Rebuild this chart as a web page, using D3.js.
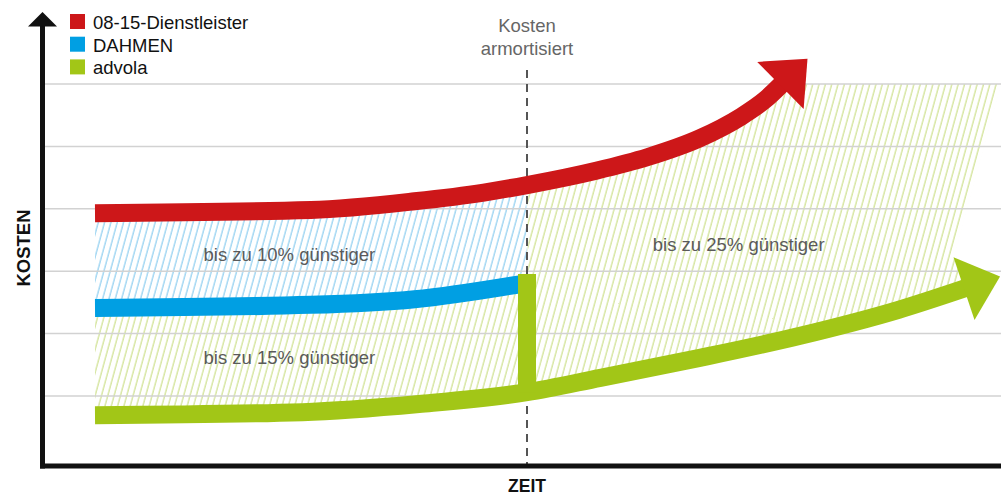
<!DOCTYPE html>
<html>
<head>
<meta charset="utf-8">
<script src="https://cdn.jsdelivr.net/npm/d3@7"></script>
<style>
body { margin: 0; background: #fff; }
svg { display: block; font-family: "Liberation Sans", Arial, sans-serif; }
</style>
</head>
<body>
<script>
// Daten
var serien = ["08-15-Dienstleister", "DAHMEN", "advola"];
var farben = ["#cd1719", "#009fe3", "#a2c617"];
var zeit0815 = [0, 2.5, 3.7, 4.5, 5, 5.8, 6.4, 7, 7.47, 7.75, 7.95];
var kosten0815 = [3.93, 3.98, 4.12, 4.26, 4.38, 4.61, 4.83, 5.13, 5.47, 5.74, 6.0];
var zeitDahmen = [0, 2.5, 3.7, 5];
var kostenDahmen = [2.41, 2.46, 2.55, 2.81];
var zeitAdvola = [0, 2.4, 3.75, 5, 5.85, 7, 8.15, 9.3, 10.08];
var kostenAdvola = [0.69, 0.74, 0.87, 1.06, 1.29, 1.61, 1.96, 2.38, 2.73];
var amortZeit = 5;
var gitterWerte = [1, 2, 3, 4, 5, 6];
var texte = ["bis zu 10% günstiger", "bis zu 15% günstiger", "bis zu 25% günstiger"];

var width = 1001, height = 496;
var achseX = 42.5, achseY = 466;
var band = 18;
var hatchWinkel = 15.3;

var svg = d3.select("body").append("svg").attr("width", width).attr("height", height);
var x = d3.scaleLinear().domain([0, 10]).range([95, 959]);
var y = d3.scaleLinear().domain([0, 6]).range([458.3, 84]);

function zip(a, b) {
    return a.map(function (d, i) { return [d, b[i]]; });
}
var daten = [zip(zeit0815, kosten0815), zip(zeitDahmen, kostenDahmen), zip(zeitAdvola, kostenAdvola)];

//Schraffur
var defs = svg.append("defs");
function hatch(id, color) {
    defs.append("pattern").attr("id", id).attr("patternUnits", "userSpaceOnUse")
        .attr("width", 6.1).attr("height", 10).attr("patternTransform", "rotate(" + hatchWinkel + ")")
        .append("line").attr("x1", 1).attr("y1", -1).attr("x2", 1).attr("y2", 11)
        .attr("stroke", color).attr("stroke-width", 1.3);
}
hatch("hBlau", "#98d2f1");
hatch("hGruen", "#d2e398");

var gHatch = svg.append("g");
var gGrid = svg.append("g");
var gDash = svg.append("g");
var gBand = svg.append("g");
var gAxis = svg.append("g");
var gText = svg.append("g");

//Gitterlinien
gGrid.selectAll("line").data(gitterWerte).enter().append("line")
    .attr("x1", achseX).attr("x2", width)
    .attr("y1", function (d) { return y(d); })
    .attr("y2", function (d) { return y(d); })
    .style("stroke", "#d2d2d2").style("stroke-width", 1.5);

//gestrichelte Linie
gDash.append("line")
    .attr("x1", x(amortZeit)).attr("x2", x(amortZeit))
    .attr("y1", 70).attr("y2", achseY)
    .style("stroke", "#555").style("stroke-width", 2).style("stroke-dasharray", "8,6");

var line = d3.line()
    .x(function (d) { return x(d[0]); })
    .y(function (d) { return y(d[1]); })
    .curve(d3.curveMonotoneX);

//Baender: DAHMEN, 08-15, advola
var pfade = [];
[1, 0, 2].forEach(function (i) {
    pfade[i] = gBand.append("path").attr("d", line(daten[i]))
        .style("fill", "none").style("stroke", farben[i])
        .style("stroke-width", band).style("stroke-linecap", "butt");
});

function sample(sel) {
    var node = sel.node(), L = node.getTotalLength(), pts = [];
    for (var s = 0; s < L; s += 1) {
        var p = node.getPointAtLength(s);
        pts.push([p.x, p.y]);
    }
    var e = node.getPointAtLength(L);
    pts.push([e.x, e.y]);
    return pts;
}

function pfeil(sel, color) {
    var node = sel.node(), L = node.getTotalLength();
    var p1 = node.getPointAtLength(L), p0 = node.getPointAtLength(L - 4);
    var ux = p1.x - p0.x, uy = p1.y - p0.y, n = Math.sqrt(ux * ux + uy * uy);
    ux /= n; uy /= n;
    var vx = -uy, vy = ux;
    var bx = p1.x - ux * 2, by = p1.y - uy * 2;
    var pts = [[p1.x + ux * 36, p1.y + uy * 36], [bx + vx * 33, by + vy * 33], [bx - vx * 33, by - vy * 33]];
    gBand.append("path").attr("d", "M" + pts.join("L") + "Z").style("fill", color);
    return pts;
}

var rot = sample(pfade[0]), blau = sample(pfade[1]), gruen = sample(pfade[2]);
var x5 = x(amortZeit);

//gruener Balken bei Amortisation
var yBlauTop = y(kostenDahmen[kostenDahmen.length - 1]) - band / 2;
var yGruen = y(kostenAdvola[zeitAdvola.indexOf(amortZeit)]);
gBand.append("rect").attr("x", x5 - band / 2).attr("width", band)
    .attr("y", yBlauTop).attr("height", yGruen - yBlauTop)
    .style("fill", farben[2]);

pfeil(pfade[0], farben[0]);
var gPfeil = pfeil(pfade[2], farben[2]);

//Schraffurflaechen
function links(p) { return p[0] <= x5; }
function rechts(p) { return p[0] >= x5; }
var flaecheBlau = rot.filter(links).concat(blau.filter(links).reverse());
var flaecheGruen = blau.filter(links).concat(gruen.filter(links).reverse());
var barb = gPfeil[1][1] < gPfeil[2][1] ? gPfeil[1] : gPfeil[2];
var tanW = Math.tan(hatchWinkel * Math.PI / 180);
var xOben = barb[0] + (barb[1] - y(6)) * tanW;
var flaecheRechts = rot.filter(rechts)
    .concat([[xOben, y(6)], barb])
    .concat(gruen.filter(rechts).reverse());

var poly = d3.line();
gHatch.append("path").attr("d", poly(flaecheBlau) + "Z").style("fill", "url(#hBlau)");
gHatch.append("path").attr("d", poly(flaecheGruen) + "Z").style("fill", "url(#hGruen)");
gHatch.append("path").attr("d", poly(flaecheRechts) + "Z").style("fill", "url(#hGruen)");

//Achsen
gAxis.append("line").attr("x1", achseX).attr("x2", achseX).attr("y1", achseY + 2.5).attr("y2", 24)
    .style("stroke", "#111").style("stroke-width", 5);
gAxis.append("path").attr("d", "M" + achseX + ",12L" + (achseX - 14.5) + ",26.5L" + (achseX + 14.5) + ",26.5Z")
    .style("fill", "#111");
gAxis.append("line").attr("x1", achseX - 2.5).attr("x2", width).attr("y1", achseY).attr("y2", achseY)
    .style("stroke", "#111").style("stroke-width", 5);

gText.append("text").attr("transform", "translate(30,248) rotate(-90)")
    .attr("text-anchor", "middle").style("font-weight", "bold").style("font-size", "18.5px")
    .style("fill", "#111").text("KOSTEN");
gText.append("text").attr("x", x5).attr("y", 492)
    .attr("text-anchor", "middle").style("font-weight", "bold").style("font-size", "17.5px")
    .style("fill", "#111").text("ZEIT");

//Legende
var legende = gText.selectAll("g.leg").data(serien).enter().append("g").classed("leg", true)
    .attr("transform", function (d, i) { return "translate(70," + (14 + i * 22.7) + ")"; });
legende.append("rect").attr("width", 15).attr("height", 15)
    .style("fill", function (d, i) { return farben[i]; });
legende.append("text").attr("x", 23).attr("y", 15).style("font-size", "18.5px").style("fill", "#111")
    .text(function (d) { return d; });

//Beschriftungen
gText.append("text").attr("x", x5).attr("y", 32).attr("text-anchor", "middle")
    .style("font-size", "18.5px").style("fill", "#666").text("Kosten");
gText.append("text").attr("x", x5).attr("y", 55).attr("text-anchor", "middle")
    .style("font-size", "18.5px").style("fill", "#666").text("armortisiert");

var labelPos = [[2.25, 3.16], [2.25, 1.51], [7.45, 3.32]];
gText.selectAll("text.lab").data(texte).enter().append("text").classed("lab", true)
    .attr("x", function (d, i) { return x(labelPos[i][0]); })
    .attr("y", function (d, i) { return y(labelPos[i][1]); })
    .attr("text-anchor", "middle").style("font-size", "18.5px").style("fill", "#5a5a5a")
    .text(function (d) { return d; });
</script>
</body>
</html>
